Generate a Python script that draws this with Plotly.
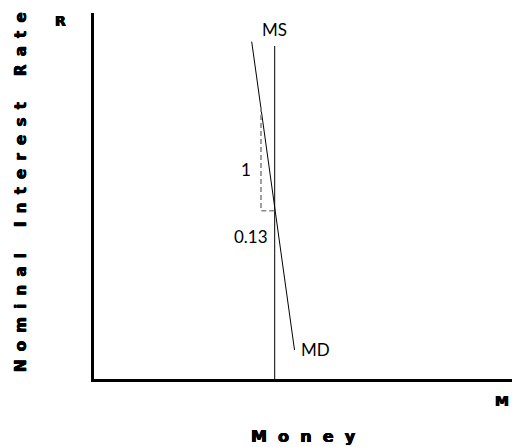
import plotly.graph_objects as go

# Data (axis units 0-10)
ms_x = [4.323, 4.323]
ms_y = [0.0, 9.098]
md_x = [3.773, 4.797]
md_y = [9.216, 0.792]
slope_x = [3.995, 3.995, 4.323]
slope_y = [7.432, 4.598, 4.598]

curve_labels = ["MS", "MD", "1", "0.13"]
label_x = [4.330, 5.299, 3.636, 3.756]
label_y = [9.536, 0.811, 5.730, 3.880]

y_title = "Nominal Interest Rate"
x_title = "Money"

NB = "\u00a0"
THIN = "\u2009"

def spaced(s, inner, word):
    words = s.split(" ")
    return word.join(inner.join(list(w)) for w in words)

fig = go.Figure()
fig.add_trace(go.Scatter(x=ms_x, y=ms_y, mode="lines",
                         line=dict(color="black", width=1), hoverinfo="skip"))
fig.add_trace(go.Scatter(x=md_x, y=md_y, mode="lines",
                         line=dict(color="black", width=1), hoverinfo="skip"))
fig.add_trace(go.Scatter(x=slope_x, y=slope_y, mode="lines",
                         line=dict(color="#888888", width=1.6, dash="5px,3px"),
                         hoverinfo="skip"))

label_font = dict(family="Lato", size=17, color="black")
for t, x, y in zip(curve_labels, label_x, label_y):
    fig.add_annotation(x=x, y=y, text=t, showarrow=False, font=label_font,
                       xanchor="center", yanchor="middle")

heavy = "0.5px 0 0 black, -0.5px 0 0 black, 0 0.4px 0 black"
bold = dict(family="DejaVu Sans", size=14, color="black", weight="bold",
            shadow=heavy)
fig.add_annotation(xref="paper", yref="paper", x=-0.080, y=0.9795, text="R",
                   showarrow=False, font=bold, xanchor="center", yanchor="middle")
fig.add_annotation(xref="paper", yref="paper", x=0.976, y=-0.060, text="M",
                   showarrow=False, font=bold, xanchor="center", yanchor="middle")
fig.add_annotation(xref="paper", yref="paper", x=0.5, y=-0.158,
                   text=spaced(x_title, NB * 2, NB * 5),
                   showarrow=False, font=dict(bold, size=16),
                   xanchor="center", yanchor="middle")
fig.add_annotation(xref="paper", yref="paper", x=-0.1746, y=0.511,
                   text=spaced(y_title, NB + THIN, NB * 5), textangle=-90,
                   showarrow=False, font=dict(bold, size=15),
                   xanchor="center", yanchor="middle")

fig.update_layout(
    width=512, height=447,
    margin=dict(l=94, r=0, t=13, b=68),
    paper_bgcolor="white", plot_bgcolor="white",
    showlegend=False,
    xaxis=dict(range=[0, 10], showgrid=False, zeroline=False, showticklabels=False,
               ticks="", showline=True, linecolor="black", linewidth=3,
               fixedrange=True),
    yaxis=dict(range=[0, 10], showgrid=False, zeroline=False, showticklabels=False,
               ticks="", showline=True, linecolor="black", linewidth=3,
               fixedrange=True),
)

fig.write_html("out.html", config={"displayModeBar": False},
               post_script="document.body.style.margin='0';document.body.style.overflow='hidden';")
